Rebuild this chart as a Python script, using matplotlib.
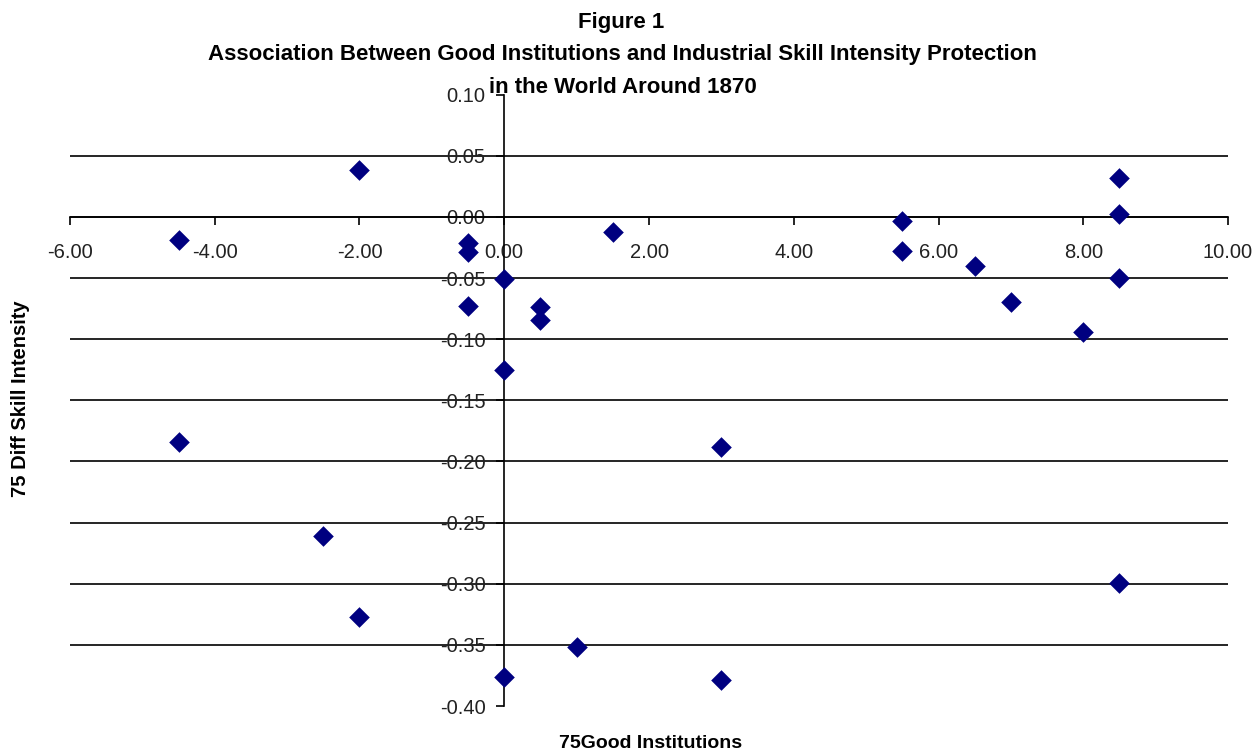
import matplotlib.pyplot as plt
from matplotlib.ticker import FormatStrFormatter

# 75 Good Institutions vs 75 Diff Skill Intensity, around 1870
good_institutions = [-4.5, -2.0, -0.5, -0.5, -0.5, 0.0, 0.5, 0.5, 0.0, 1.5,
                     -4.5, -2.5, -2.0, 0.0, 1.0, 3.0, 3.0, 5.5, 5.5, 6.5,
                     7.0, 8.0, 8.5, 8.5, 8.5, 8.5]
diff_skill = [-0.019, 0.038, -0.021, -0.029, -0.073, -0.051, -0.074, -0.084, -0.125, -0.012,
              -0.184, -0.261, -0.327, -0.376, -0.352, -0.188, -0.379, -0.003, -0.028, -0.040,
              -0.070, -0.094, 0.032, 0.002, -0.050, -0.299]

x_ticks = [-6, -4, -2, 0, 2, 4, 6, 8, 10]
y_ticks = [0.10, 0.05, 0.00, -0.05, -0.10, -0.15, -0.20, -0.25, -0.30, -0.35, -0.40]

tick_font = ['Liberation Sans', 'DejaVu Sans']
bold_font = ['Liberation Sans', 'DejaVu Sans']

fig = plt.figure(figsize=(12.58, 7.53), dpi=100)
ax = fig.add_axes([0.0556, 0.0624, 0.9206, 0.812])

ax.scatter(good_institutions, diff_skill, marker='D', s=10.5 ** 2,
           color='#000080', zorder=3, linewidths=0)

ax.set_xlim(-6, 10)
ax.set_ylim(-0.40, 0.10)
ax.set_xticks(x_ticks)
ax.set_yticks(y_ticks)
ax.xaxis.set_major_formatter(FormatStrFormatter('%.2f'))
ax.yaxis.set_major_formatter(FormatStrFormatter('%.2f'))

# axes cross at the origin, Excel style
ax.spines['left'].set_position(('data', 0))
ax.spines['bottom'].set_position(('data', 0))
ax.spines['top'].set_visible(False)
ax.spines['right'].set_visible(False)
for side in ['left', 'bottom']:
    ax.spines[side].set_linewidth(1.2)
    ax.spines[side].set_color('black')

ax.tick_params(axis='x', direction='out', length=5.5, width=1.2, pad=13, labelsize=14.5)
ax.tick_params(axis='y', direction='out', length=5.5, width=1.2, pad=8, labelsize=14.5)
for lab in ax.get_xticklabels() + ax.get_yticklabels():
    lab.set_family(tick_font)
    lab.set_color('#222222')

ax.grid(axis='y', color='black', linewidth=1.2)
ax.set_axisbelow(True)
for t in ax.yaxis.get_major_ticks():
    if abs(t.get_loc() - 0.10) < 1e-9 or abs(t.get_loc() + 0.40) < 1e-9:
        t.gridline.set_visible(False)

fig.text(0.494, 0.970, 'Figure 1', ha='center', va='center',
         fontsize=16, fontweight='bold', family=bold_font)
fig.text(0.495, 0.927, 'Association Between Good Institutions and Industrial Skill Intensity Protection',
         ha='center', va='center', fontsize=16, fontweight='bold', family=bold_font)
fig.text(0.495, 0.884, 'in the World Around 1870', ha='center', va='center',
         fontsize=16, fontweight='bold', family=bold_font)

fig.text(0.016, 0.47, '75 Diff Skill Intensity', rotation=90, ha='center', va='center',
         fontsize=14.5, fontweight='bold', family=bold_font)
fig.text(0.517, 0.013, '75Good Institutions', ha='center', va='center',
         fontsize=14, fontweight='bold', family=bold_font)

fig.savefig('out.png', dpi=100)
